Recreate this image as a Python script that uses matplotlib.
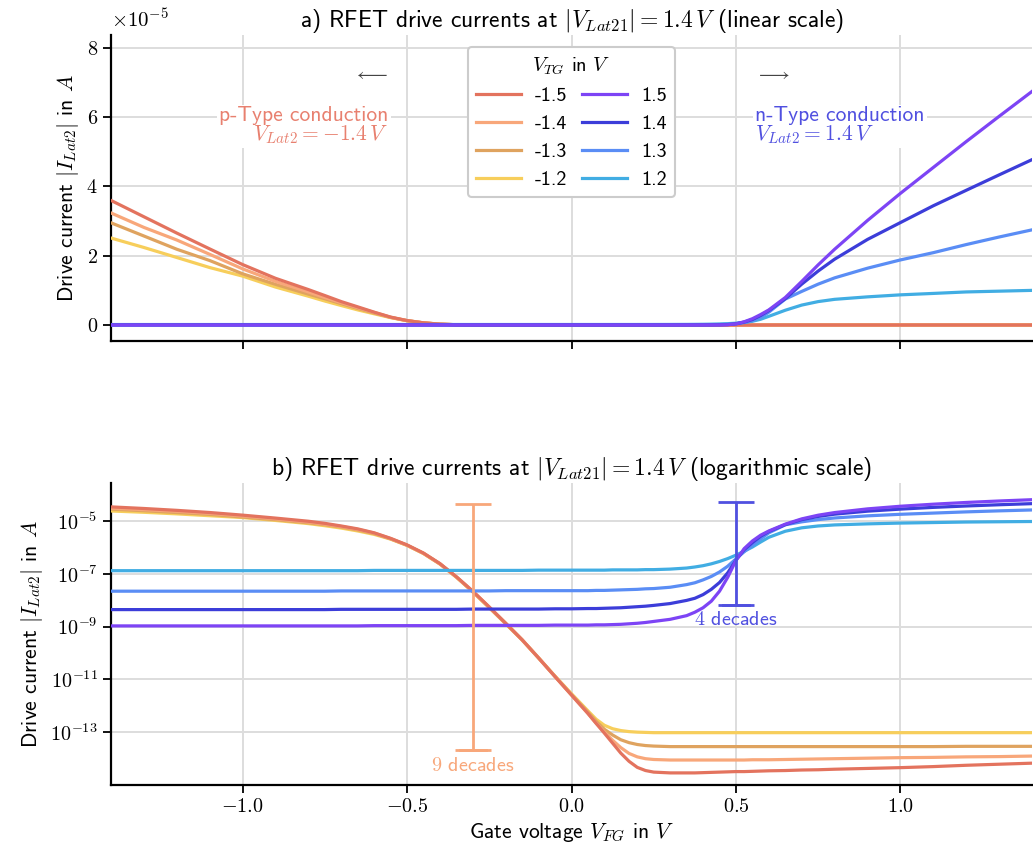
import numpy as np
import matplotlib
matplotlib.use("Agg")
import matplotlib.pyplot as plt
from matplotlib.ticker import FuncFormatter, FixedLocator, NullLocator

plt.rcParams['font.family'] = ['cmss10', 'DejaVu Sans']
plt.rcParams['mathtext.fontset'] = 'cm'
plt.rcParams['axes.unicode_minus'] = False
plt.rcParams['font.size'] = 14

# gate voltage V_FG in V
vfg = [-1.4, -1.3, -1.2, -1.1, -1.0, -0.9, -0.8,
       -0.75, -0.7, -0.65, -0.6, -0.55, -0.5, -0.45, -0.4, -0.35, -0.3, -0.25, -0.2, -0.15, -0.1, -0.05, 0.0, 0.05,
       0.075, 0.1, 0.125, 0.15, 0.175, 0.2, 0.225, 0.25,
       0.3, 0.35, 0.375, 0.4, 0.425, 0.45, 0.475, 0.5, 0.525, 0.55, 0.575, 0.6,
       0.65, 0.7, 0.75, 0.8, 0.9, 1.0, 1.1, 1.2, 1.3, 1.4]

# log10 of |I_Lat2| in A, one list per V_TG
log_i_m15 = [-4.444, -4.505, -4.576, -4.658, -4.758, -4.87, -4.99,
             -5.07, -5.17, -5.28, -5.43, -5.64, -5.89, -6.20, -6.60, -7.10, -7.65, -8.25, -8.87, -9.50, -10.19, -10.90, -11.60, -12.30,
             -12.68, -13.05, -13.43, -13.81, -14.12, -14.35, -14.47, -14.53,
             -14.56, -14.56, -14.56, -14.55, -14.54, -14.53, -14.52, -14.51, -14.51, -14.50, -14.49, -14.48,
             -14.47, -14.45, -14.44, -14.42, -14.39, -14.36, -14.32, -14.27, -14.23, -14.19]
log_i_m14 = [-4.49, -4.55, -4.61, -4.69, -4.79, -4.90, -5.02,
             -5.10, -5.19, -5.30, -5.44, -5.65, -5.90, -6.21, -6.61, -7.11, -7.66, -8.26, -8.87, -9.50, -10.19, -10.90, -11.60, -12.30,
             -12.67, -13.00, -13.32, -13.60, -13.82, -13.95, -14.02, -14.05,
             -14.07, -14.07, -14.07, -14.07, -14.07, -14.07, -14.07, -14.07, -14.07, -14.06, -14.06, -14.06,
             -14.05, -14.04, -14.03, -14.02, -14.00, -13.98, -13.97, -13.95, -13.94, -13.92]
log_i_m13 = [-4.53, -4.59, -4.66, -4.73, -4.83, -4.93, -5.05,
             -5.12, -5.21, -5.32, -5.46, -5.66, -5.90, -6.21, -6.61, -7.11, -7.67, -8.27, -8.88, -9.50, -10.19, -10.89, -11.58, -12.25,
             -12.60, -12.90, -13.12, -13.30, -13.41, -13.48, -13.52, -13.54,
             -13.56, -13.56, -13.56, -13.56, -13.56, -13.56, -13.56, -13.56, -13.56, -13.56, -13.56, -13.56,
             -13.56, -13.56, -13.56, -13.56, -13.56, -13.56, -13.56, -13.55, -13.55, -13.55]
log_i_m12 = [-4.60, -4.65, -4.71, -4.78, -4.85, -4.96, -5.08,
             -5.16, -5.25, -5.36, -5.49, -5.67, -5.91, -6.22, -6.62, -7.12, -7.68, -8.28, -8.89, -9.51, -10.19, -10.88, -11.55, -12.20,
             -12.52, -12.75, -12.88, -12.95, -12.99, -13.01, -13.02, -13.03,
             -13.03, -13.03, -13.03, -13.03, -13.03, -13.03, -13.03, -13.03, -13.03, -13.03, -13.03, -13.03,
             -13.03, -13.03, -13.03, -13.03, -13.03, -13.03, -13.03, -13.03, -13.03, -13.03]
log_i_p15 = [-8.97, -8.97, -8.97, -8.97, -8.97, -8.97, -8.97,
             -8.97, -8.97, -8.97, -8.96, -8.96, -8.96, -8.96, -8.96, -8.96, -8.95, -8.95, -8.95, -8.95, -8.95, -8.94, -8.94, -8.94,
             -8.93, -8.93, -8.92, -8.91, -8.89, -8.87, -8.84, -8.80,
             -8.72, -8.58, -8.45, -8.28, -8.03, -7.65, -7.12, -6.48, -6.03, -5.74, -5.52, -5.36,
             -5.10, -4.90, -4.76, -4.66, -4.52, -4.42, -4.342, -4.276, -4.220, -4.171]
log_i_p14 = [-8.35, -8.35, -8.35, -8.35, -8.35, -8.35, -8.35,
             -8.35, -8.34, -8.34, -8.34, -8.34, -8.34, -8.34, -8.34, -8.34, -8.33, -8.33, -8.33, -8.33, -8.33, -8.32, -8.32, -8.31,
             -8.31, -8.30, -8.29, -8.28, -8.26, -8.24, -8.22, -8.19,
             -8.12, -8.00, -7.92, -7.78, -7.58, -7.32, -6.95, -6.47, -6.07, -5.80, -5.56, -5.38,
             -5.119, -4.928, -4.807, -4.721, -4.607, -4.529, -4.463, -4.410, -4.363, -4.321]
log_i_p13 = [-7.65, -7.65, -7.65, -7.65, -7.65, -7.65, -7.65,
             -7.65, -7.64, -7.64, -7.64, -7.64, -7.64, -7.64, -7.64, -7.64, -7.64, -7.64, -7.63, -7.63, -7.63, -7.63, -7.63, -7.63,
             -7.62, -7.62, -7.61, -7.60, -7.59, -7.58, -7.56, -7.55,
             -7.50, -7.40, -7.33, -7.22, -7.09, -6.92, -6.70, -6.42, -6.15, -5.90, -5.66, -5.43,
             -5.125, -5.013, -4.928, -4.866, -4.785, -4.726, -4.68, -4.634, -4.595, -4.561]
log_i_p12 = [-6.87, -6.87, -6.87, -6.87, -6.87, -6.87, -6.87,
             -6.87, -6.87, -6.87, -6.86, -6.86, -6.86, -6.86, -6.86, -6.86, -6.86, -6.86, -6.86, -6.86, -6.85, -6.85, -6.85, -6.85,
             -6.85, -6.85, -6.84, -6.84, -6.84, -6.84, -6.83, -6.83,
             -6.81, -6.77, -6.73, -6.68, -6.61, -6.52, -6.41, -6.28, -6.13, -5.97, -5.78, -5.60,
             -5.37, -5.24, -5.17, -5.13, -5.09, -5.06, -5.04, -5.02, -5.01, -5.00]

vtg_labels = ['-1.5', '-1.4', '-1.3', '-1.2', '1.5', '1.4', '1.3', '1.2']
series = [log_i_m15, log_i_m14, log_i_m13, log_i_m12, log_i_p15, log_i_p14, log_i_p13, log_i_p12]
colors = ['#e3735e', '#f8a77a', '#dfa35f', '#f7ce5b', '#7d44f5', '#3c3dd9', '#5a8df5', '#41ade3']

# on/off ratio markers in the log plot (V, low log10 I, high log10 I)
p_bar = (-0.3, -13.7, -4.35)
n_bar = (0.5, -8.17, -4.25)

p_text = '#e8806f'
n_text = '#5050e0'

x = np.array(vfg)

fig = plt.figure(figsize=(10.33, 8.56), dpi=100)
ax1 = fig.add_axes([111 / 1033, 1 - 341 / 856, 921 / 1033, 306 / 856])
ax2 = fig.add_axes([111 / 1033, 1 - 785 / 856, 921 / 1033, 302 / 856])

handles = {}
draw_order = [3, 2, 1, 0, 7, 6, 5, 4]
for i in draw_order:
    cur = 10.0 ** np.array(series[i])
    l1, = ax1.plot(x, cur, color=colors[i], lw=2.3, label=vtg_labels[i], zorder=3)
    ax2.plot(x, cur, color=colors[i], lw=2.3, zorder=3)
    handles[i] = l1

for ax in (ax1, ax2):
    ax.set_xlim(-1.4, 1.4)
    ax.set_xticks([-1.0, -0.5, 0.0, 0.5, 1.0])
    ax.grid(True, color='#dddddd', lw=1.4, zorder=0)
    ax.set_axisbelow(True)
    for s in ('top', 'right'):
        ax.spines[s].set_visible(False)
    for s in ('left', 'bottom'):
        ax.spines[s].set_linewidth(1.6)
    ax.tick_params(length=6, width=1.3, labelsize=14.5)
    ax.set_ylabel(r'Drive current $|I_{Lat2}|$ in $A$', fontsize=15.5)

# a) linear
ax1.set_ylim(-0.462e-5, 8.375e-5)
ax1.set_yticks([0, 2e-5, 4e-5, 6e-5, 8e-5])
ax1.yaxis.set_major_formatter(FuncFormatter(lambda v, p: r'$%d$' % round(v / 1e-5)))
ax1.tick_params(axis='x', labelbottom=False)
ax1.text(0.0, 1.012, r'$\times10^{-5}$', transform=ax1.transAxes, fontsize=15, ha='left', va='bottom')
ax1.set_title(r'a) RFET drive currents at $|V_{Lat21}| = 1.4\,V$ (linear scale)', fontsize=17, pad=5)

ax1.text(-0.611, 7.22e-5, r'$\longleftarrow$', color='#444444', fontsize=14, ha='center', va='center')
ax1.text(0.611, 7.22e-5, r'$\longrightarrow$', color='#444444', fontsize=14, ha='center', va='center')
ax1.text(-0.556, 5.75e-5, 'p-Type conduction\n' + r'$V_{Lat2} = -1.4\,V$', color=p_text,
         ha='right', va='center', multialignment='right', linespacing=0.92, fontsize=15.5,
         bbox=dict(facecolor='white', edgecolor='none', pad=1.5), zorder=4)
ax1.text(0.559, 5.75e-5, 'n-Type conduction\n' + r'$V_{Lat2} = 1.4\,V$', color=n_text,
         ha='left', va='center', multialignment='left', linespacing=0.92, fontsize=15.5,
         bbox=dict(facecolor='white', edgecolor='none', pad=1.5), zorder=4)

leg = ax1.legend([handles[i] for i in range(8)], vtg_labels, ncol=2, loc='upper center',
                 title=r'$V_{TG}$ in $V$', fontsize=14.5, title_fontsize=14.5,
                 handlelength=2.2, handletextpad=0.7, columnspacing=0.75, labelspacing=0.5,
                 borderaxespad=0.6, framealpha=1.0, edgecolor='#cccccc', fancybox=True)
leg.get_frame().set_linewidth(1.5)
leg.set_zorder(5)

# b) logarithmic
ax2.set_yscale('log')
ax2.set_ylim(10 ** -15.02, 10 ** -3.536)
ax2.yaxis.set_major_locator(FixedLocator([1e-13, 1e-11, 1e-9, 1e-7, 1e-5]))
ax2.yaxis.set_minor_locator(NullLocator())
ax2.yaxis.set_major_formatter(FuncFormatter(lambda v, p: r'$10^{%d}$' % round(np.log10(v))))
ax2.xaxis.set_major_formatter(FuncFormatter(lambda v, p: r'$%.1f$' % v))
ax2.set_xlabel(r'Gate voltage $V_{FG}$ in $V$', fontsize=15.5)
ax2.set_title(r'b) RFET drive currents at $|V_{Lat21}| = 1.4\,V$ (logarithmic scale)', fontsize=17, pad=5)

for (bx, lo, hi), col, label in ((p_bar, colors[1], r'$9$ decades'), (n_bar, n_text, r'$4$ decades')):
    ax2.errorbar([bx], [10 ** lo], yerr=[[0], [10 ** hi - 10 ** lo]], color=col, lw=2,
                 capsize=13, capthick=2, zorder=4)
    ax2.plot([bx - 0.04, bx + 0.04], [10 ** lo, 10 ** lo], color=col, lw=2, zorder=4)
    ax2.text(bx, 10 ** (lo - 0.25), label, color=col, ha='center', va='top', fontsize=14.5)

fig.savefig('out.png', dpi=100)
